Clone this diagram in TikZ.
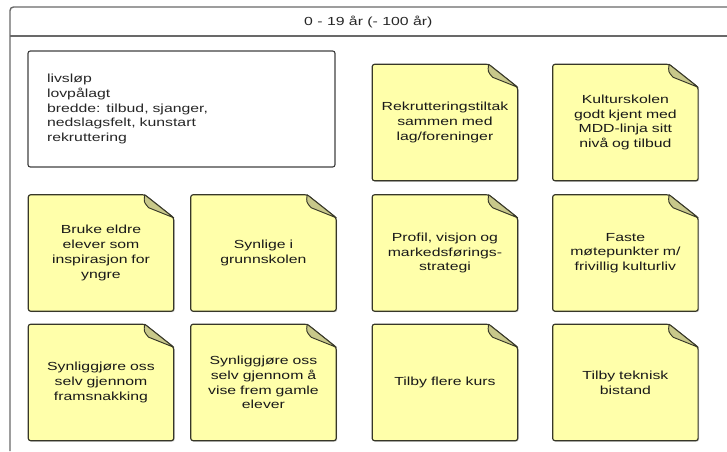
\documentclass[tikz,border=0pt]{standalone}
\usepackage{fontspec}
\setmainfont{Liberation Sans}[FakeStretch=1.35]
\usepackage{tikz}
\usetikzlibrary{positioning}
\usetikzlibrary{backgrounds}
\usetikzlibrary{shadows}
\definecolor{notefill}{RGB}{255,255,170}
\definecolor{foldfill}{RGB}{200,200,138}
\definecolor{noteline}{RGB}{55,55,40}
\definecolor{frameline}{RGB}{105,105,105}
\tikzstyle{frame} = [draw=frameline, line width=1.2pt]
\tikzstyle{title} = [font=\fontsize{10}{12}\selectfont, text=black!85]
\tikzstyle{info} = [rectangle, rounded corners=2pt, minimum width=9.21cm, minimum height=3.48cm, text width=8.07cm, inner xsep=0.57cm, align=left, draw=black!75, line width=1pt, text=black!85, font=\fontsize{10}{12.5}\selectfont]
\tikzstyle{note} = [rectangle, minimum width=4.35cm, minimum height=3.48cm, text width=4cm, align=center, text=black!90, font=\fontsize{10}{12.6}\selectfont]
\tikzstyle{notebody} = [draw=noteline, fill=notefill, line width=1pt, rounded corners=2pt, drop shadow={shadow xshift=0.03cm, shadow yshift=-0.03cm, fill=black!35}]
\tikzstyle{fold} = [draw=noteline, fill=foldfill, line width=0.8pt, line join=round]

\begin{document}
\begin{tikzpicture}[node distance=0.42cm]

    \useasboundingbox (0,0) rectangle (21.81,-13.53);

    \draw [frame, rounded corners=3pt] (0.3,-13.53) -- (0.3,-0.21) -- (21.81,-0.21);
    \draw [frame] (0.3,-1.08) -- (21.81,-1.08);
    \node (title) [title] at (11.05,-0.645) {0 - 19 år (- 100 år)};

    \node (info) [info] at (5.445,-3.27) {livsløp\\lovpålagt\\bredde: tilbud, sjanger,\\nedslagsfelt, kunstart\\rekruttering};

    \node (eldre) [note] at (3.03,-7.59) {Bruke eldre\\elever som\\inspirasjon for\\yngre};
    \node (grunnskolen) [note, right=0.51cm of eldre] {Synlige i\\grunnskolen};
    \node (profil) [note, right=1.08cm of grunnskolen] {Profil, visjon og\\markedsførings-\\strategi};
    \node (motepunkter) [note, right=1.05cm of profil] {Faste\\møtepunkter m/\\frivillig kulturliv};

    \node (rekruttering) [note, above=of profil] {Rekrutteringstiltak\\sammen med\\lag/foreninger};
    \node (kulturskolen) [note, above=of motepunkter] {Kulturskolen\\godt kjent med\\MDD-linja sitt\\nivå og tilbud};

    \node (framsnakking) [note, below=0.39cm of eldre] {Synliggjøre oss\\selv gjennom\\framsnakking};
    \node (gamle) [note, below=0.39cm of grunnskolen] {Synliggjøre oss\\selv gjennom å\\vise frem gamle\\elever};
    \node (kurs) [note, below=0.39cm of profil] {Tilby flere kurs};
    \node (bistand) [note, below=0.39cm of motepunkter] {Tilby teknisk\\bistand};

    \begin{scope}[on background layer]
        \foreach \n in {rekruttering, kulturskolen, eldre, grunnskolen, profil, motepunkter, framsnakking, gamle, kurs, bistand} {
            \draw [notebody] (\n.north west) -- ([xshift=-0.87cm]\n.north east) -- ([yshift=-0.69cm]\n.north east) -- (\n.south east) -- (\n.south west) -- cycle;
            \draw [fold] ([xshift=-0.87cm]\n.north east) .. controls +(-0.03,-0.22) .. ([xshift=-0.75cm, yshift=-0.39cm]\n.north east) -- ([yshift=-0.69cm]\n.north east) -- cycle;
        }
    \end{scope}

\end{tikzpicture}
\end{document}
